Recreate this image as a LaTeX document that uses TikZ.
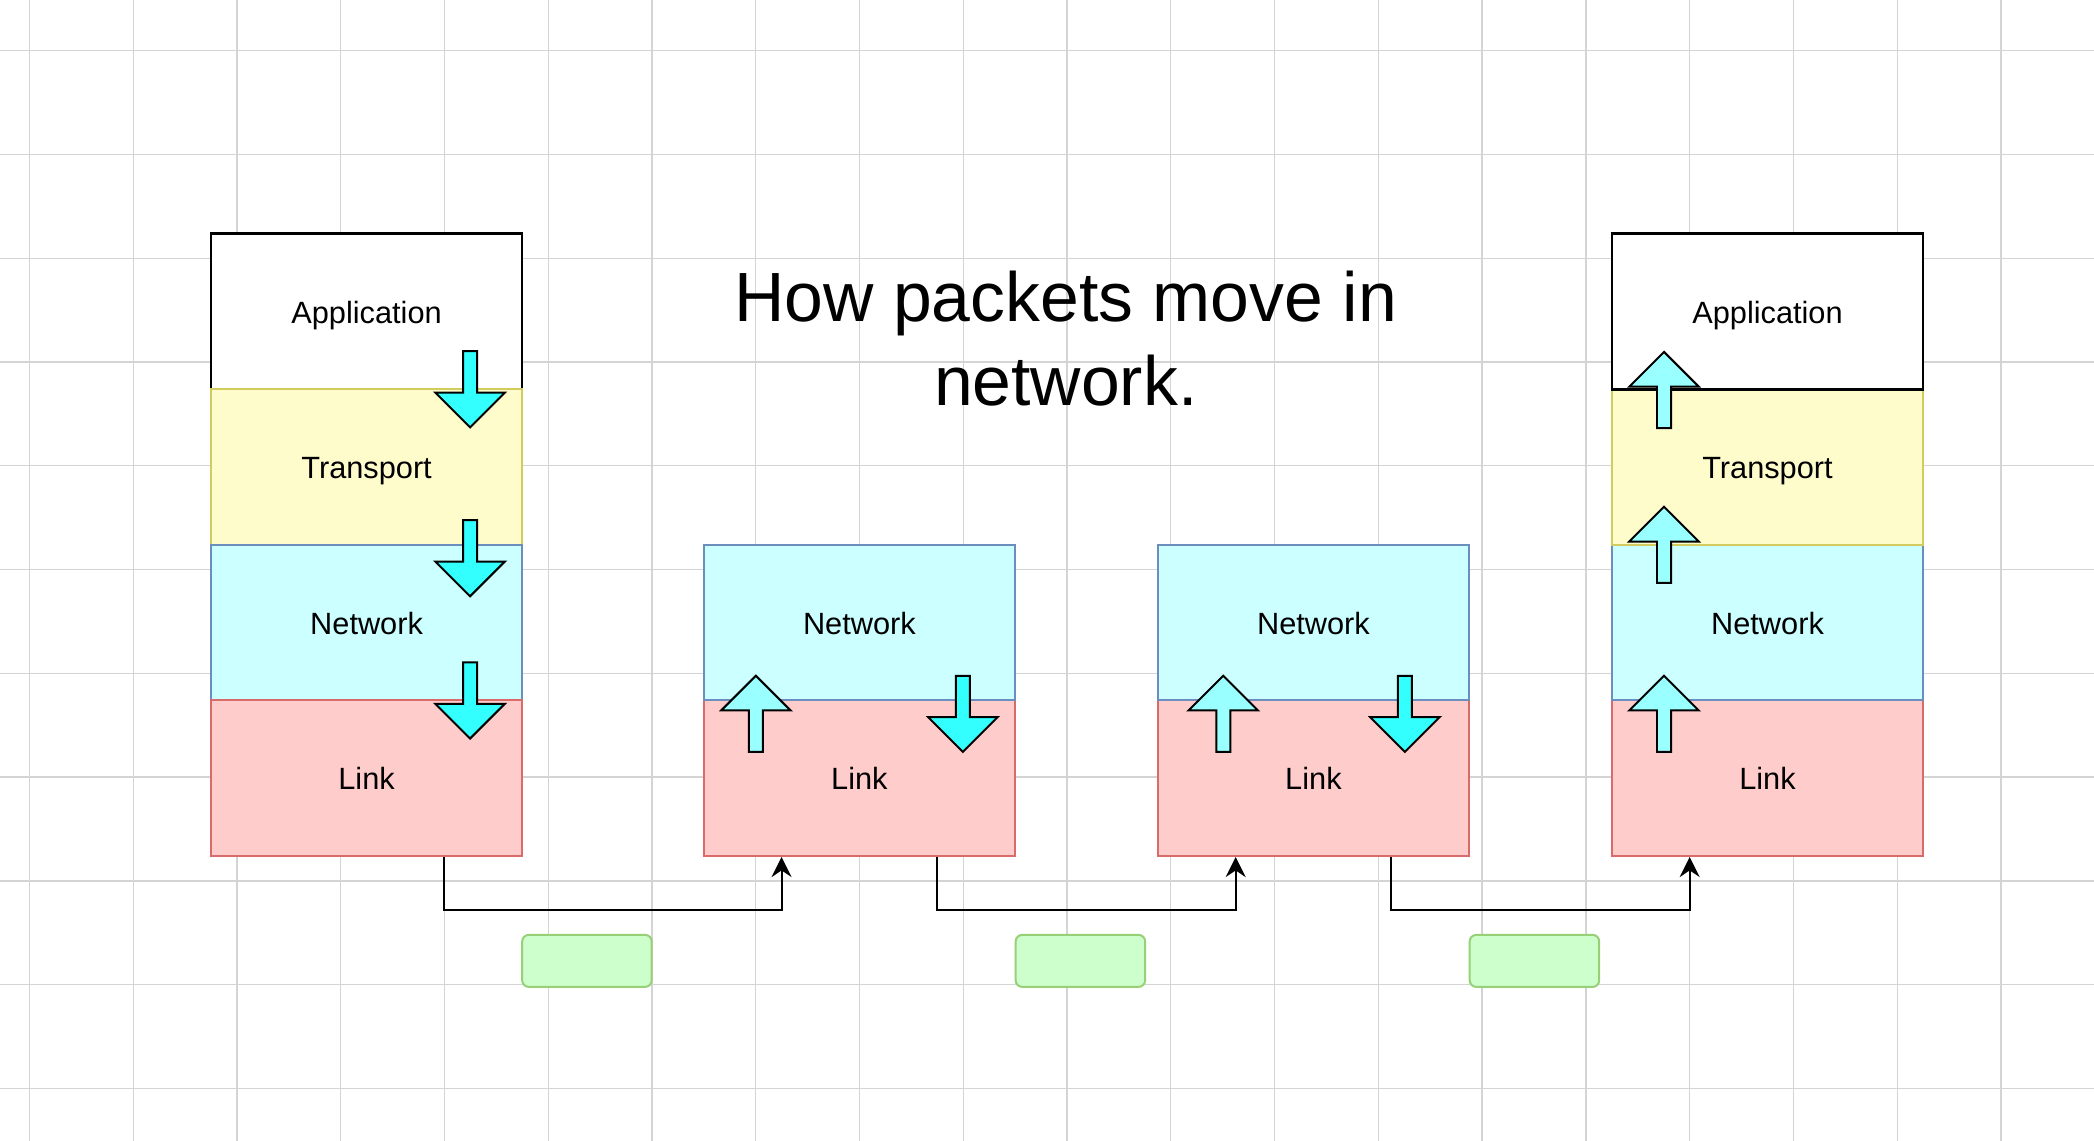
\documentclass[tikz,border=0pt]{standalone}
\usepackage{fontspec}
\setmainfont{Liberation Sans}
\usepackage{tikz}
\usetikzlibrary{arrows.meta}

\definecolor{gridgray}{HTML}{D4D4D4}
\definecolor{transfill}{HTML}{FFFCCC}
\definecolor{transline}{HTML}{D2CC5E}
\definecolor{netfill}{HTML}{CCFFFF}
\definecolor{netline}{HTML}{6C8EBF}
\definecolor{linkfill}{HTML}{FFCCCC}
\definecolor{linkline}{HTML}{DA6B6B}
\definecolor{downcyan}{HTML}{33FFFF}
\definecolor{upcyan}{HTML}{99FFFF}
\definecolor{framefill}{HTML}{CCFFCC}
\definecolor{frameline}{HTML}{97D077}

\begin{document}
\begin{tikzpicture}
	\tikzstyle{layer} = [rectangle, minimum width=4.66cm, minimum height=2.33cm, line width=0.85pt, font=\fontsize{13.1}{15}\selectfont, text height=0.98em, text depth=0pt]
	\tikzstyle{app} = [layer, draw=black, fill=white, line width=1.1pt]
	\tikzstyle{trans} = [layer, draw=transline, fill=transfill]
	\tikzstyle{net} = [layer, draw=netline, fill=netfill]
	\tikzstyle{lnk} = [layer, draw=linkline, fill=linkfill]
	\tikzstyle{frame} = [rectangle, rounded corners=0.1cm, minimum width=1.94cm, minimum height=0.78cm, draw=frameline, fill=framefill, line width=0.85pt]
	\tikzstyle{downarr} = [draw=black, fill=downcyan, line width=0.85pt, line join=miter]
	\tikzstyle{uparr} = [draw=black, fill=upcyan, line width=0.85pt, line join=miter]
	\tikzstyle{hop} = [draw=black, line width=0.85pt, -{Stealth[length=3mm, width=3mm, inset=1mm]}]
	\useasboundingbox (0,0) rectangle (31.36,-17.08);
	\fill[white] (0,0) rectangle (31.36,-17.08);
	% grid
	\foreach \i in {0,...,19}
		\draw[gridgray, line width=0.55pt] (0.44+1.554*\i,0) -- (0.44+1.554*\i,-17.08);
	\foreach \j in {0,...,10}
		\draw[gridgray, line width=0.55pt] (0,-0.76-1.554*\j) -- (31.36,-0.76-1.554*\j);
	% sender
	\node[app] (a1) at (5.49, -4.665) {Application};
	\node[trans] (t1) at (5.49, -6.995) {Transport};
	\node[net] (n1) at (5.49, -9.325) {Network};
	\node[lnk] (l1) at (5.49, -11.655) {Link};
	% routers
	\node[lnk] (l2) at (12.87, -11.655) {Link};
	\node[net] (n2) at (12.87, -9.325) {Network};
	\node[lnk] (l3) at (19.67, -11.655) {Link};
	\node[net] (n3) at (19.67, -9.325) {Network};
	% receiver
	\node[lnk] (l4) at (26.47, -11.655) {Link};
	\node[net] (n4) at (26.47, -9.325) {Network};
	\node[trans] (t4) at (26.47, -6.995) {Transport};
	\node[app] (a4) at (26.47, -4.665) {Application};
	% layer arrows
	\foreach \x/\y in {7.04/-5.26, 7.04/-7.79, 7.04/-9.92, 14.42/-10.12, 21.04/-10.12}
		\draw[downarr] (\x-0.105,\y) -- ++(0.21,0) -- ++(0,-0.62) -- ++(0.415,0) -- ++(-0.52,-0.52) -- ++(-0.52,0.52) -- ++(0.415,0) -- cycle;
	\foreach \x/\y in {24.92/-5.27, 24.92/-7.59, 24.92/-10.12, 11.32/-10.12, 18.32/-10.12}
		\draw[uparr] (\x,\y) -- ++(0.52,-0.52) -- ++(-0.415,0) -- ++(0,-0.62) -- ++(-0.21,0) -- ++(0,0.62) -- ++(-0.415,0) -- cycle;
	% hops
	\draw[hop] ([xshift=1.165cm]l1.south) -- ++(0,-0.8) -| ([xshift=-1.165cm]l2.south);
	\draw[hop] ([xshift=1.165cm]l2.south) -- ++(0,-0.8) -| ([xshift=-1.165cm]l3.south);
	\draw[hop] ([xshift=1.165cm]l3.south) -- ++(0,-0.8) -| ([xshift=-1.165cm]l4.south);
	\node[frame] (g1) at (8.79, -14.39) {};
	\node[frame] (g2) at (16.18, -14.39) {};
	\node[frame] (g3) at (22.98, -14.39) {};
	% title
	\node[align=center, font=\fontsize{29.7}{35.7}\selectfont] (title) at (15.96, -5.07) {How packets move in\\network.};
\end{tikzpicture}
\end{document}
